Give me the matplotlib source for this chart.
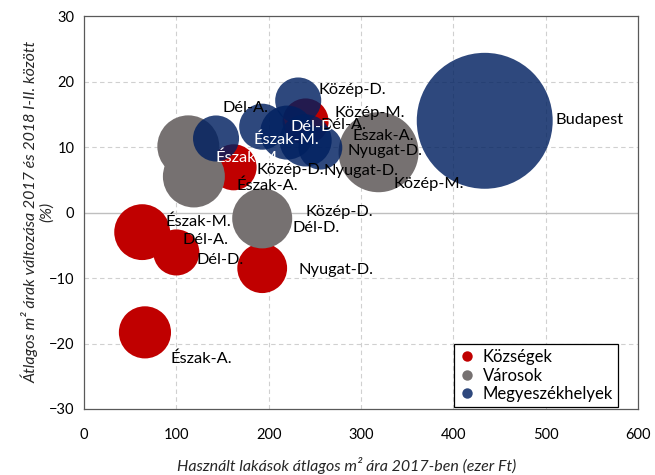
import matplotlib
matplotlib.use("Agg")
import matplotlib.pyplot as plt
from matplotlib.lines import Line2D

plt.rcParams['font.family'] = ['Lato', 'DejaVu Sans']

# ---------------- data ----------------
series_names = ["Községek", "Városok", "Megyeszékhelyek"]

koz_regions = ["Közép-M.", "Közép-D.", "Nyugat-D.", "Dél-D.", "Dél-A.", "Észak-M.", "Észak-A."]
koz_price = [240, 162, 193, 100, 72, 63, 66]
koz_change = [13.9, 6.9, -8.5, -6.1, -4.0, -3.0, -18.3]
koz_size = [53, 53, 62, 53, 26, 78, 68]

var_regions = ["Közép-M.", "Közép-D.", "Dél-D.", "Nyugat-D.", "Észak-M.", "Észak-A.", "Dél-A."]
var_price = [319, 193, 185, 294, 113, 119, 115]
var_change = [9.2, -0.9, -2.1, 9.5, 10.1, 5.5, 7.9]
var_size = [160, 90, 32, 22, 96, 96, 40]

megy_regions = ["Budapest", "Közép-D.", "Dél-A.", "Észak-M.", "Dél-D.", "Észak-A.", "Nyugat-D."]
megy_price = [434, 232, 143, 193, 220, 240, 256]
megy_change = [14.0, 17.1, 11.3, 13.1, 12.2, 11.0, 9.9]
megy_size = [462, 53, 53, 53, 73, 68, 48]

x_ticks = [0, 100, 200, 300, 400, 500, 600]
y_ticks = [-30, -20, -10, 0, 10, 20, 30]

# ---------------- layout / style ----------------
# label offsets (pixels, from bubble centre) and label colours
koz_offsets = [(29, 8), (23, -3), (36, -2), (20, -8), (32, -1), (23, 10), (26, -26)]
koz_lcol = ["black"] * 7
var_offsets = [(15, -32), (43, 6), (38, -2), (-8, -1), (27, -11), (43, -9), (130, 36)]
var_lcol = ["black", "black", "black", "black", "white", "black", "black"]
megy_offsets = [(71, 1), (20, 10), (6, 30), (-9, -13), (3, 6), (47, 5), (3, -23)]
megy_lcol = ["black", "black", "black", "white", "white", "black", "black"]

colors = ["#C00000", "#767171", "#002060"]
alphas = [1.0, 1.0, 0.82]
size_scale = 20.736

fig = plt.figure(figsize=(6.55, 4.75), dpi=100)
ax = fig.add_axes([84 / 655, 1 - 409 / 475, (638 - 84) / 655, (409 - 16) / 475])

ax.set_xlim(0, 600)
ax.set_ylim(-30, 30)
ax.set_xticks(x_ticks)
ax.set_yticks(y_ticks)

# grid
for xv in x_ticks[1:-1]:
    ax.axvline(xv, color="#D0D0D0", lw=0.8, ls=(0, (4, 3)), zorder=0)
for yv in y_ticks[1:-1]:
    if yv == 0:
        ax.axhline(yv, color="#BFBFBF", lw=1.0, zorder=0.5)
    else:
        ax.axhline(yv, color="#D0D0D0", lw=0.8, ls=(0, (4, 3)), zorder=0)

all_series = [
    (koz_price, koz_change, koz_size, koz_regions, koz_offsets, koz_lcol),
    (var_price, var_change, var_size, var_regions, var_offsets, var_lcol),
    (megy_price, megy_change, megy_size, megy_regions, megy_offsets, megy_lcol),
]

for i, (xs, ys, ss, regs, offs, lcols) in enumerate(all_series):
    ax.scatter(xs, ys, s=[v * size_scale for v in ss], color=colors[i],
               alpha=alphas[i], linewidths=0, zorder=2 + i)

for i, (xs, ys, ss, regs, offs, lcols) in enumerate(all_series):
    for x, y, r, o, c in zip(xs, ys, regs, offs, lcols):
        ax.annotate(r, xy=(x, y), xytext=o, textcoords="offset pixels",
                    ha="left", va="center", fontsize=11.8, color=c, zorder=10 + i)

for sp in ax.spines.values():
    sp.set_color("#595959")
    sp.set_linewidth(0.9)

ax.tick_params(axis="x", length=0, pad=13.5, labelsize=10.5, colors="black")
ax.tick_params(axis="y", length=0, pad=7, labelsize=10.5, colors="black")

fig.text(347 / 655, 1 - 465 / 475,
         "Használt lakások átlagos m² ára 2017-ben (ezer Ft)",
         ha="center", va="center", fontsize=11.5, style="italic", color="#262626")
fig.text(30 / 655, 1 - 212 / 475,
         "Átlagos m² árak változása 2017 és 2018 I-II. között",
         ha="center", va="center", rotation=90,
         fontsize=11.5, style="italic", color="#262626")
fig.text(47 / 655, 1 - 212 / 475, "(%)",
         ha="center", va="center", rotation=90,
         fontsize=11.5, style="italic", color="#262626")

handles = [Line2D([], [], marker="o", ls="none", markersize=7.5,
                  markerfacecolor=colors[i], markeredgecolor="none",
                  alpha=alphas[i])
           for i in range(3)]
leg = ax.legend(handles, series_names, loc="lower right",
                bbox_to_anchor=(0.964, 0.005), borderaxespad=0,
                fontsize=12, frameon=True, fancybox=False, framealpha=1,
                edgecolor="black", handlelength=0.9, handletextpad=0.5,
                labelspacing=0.15, borderpad=0.3)
leg.get_frame().set_linewidth(0.9)
leg.set_zorder(20)

fig.savefig("out.png", dpi=100)
